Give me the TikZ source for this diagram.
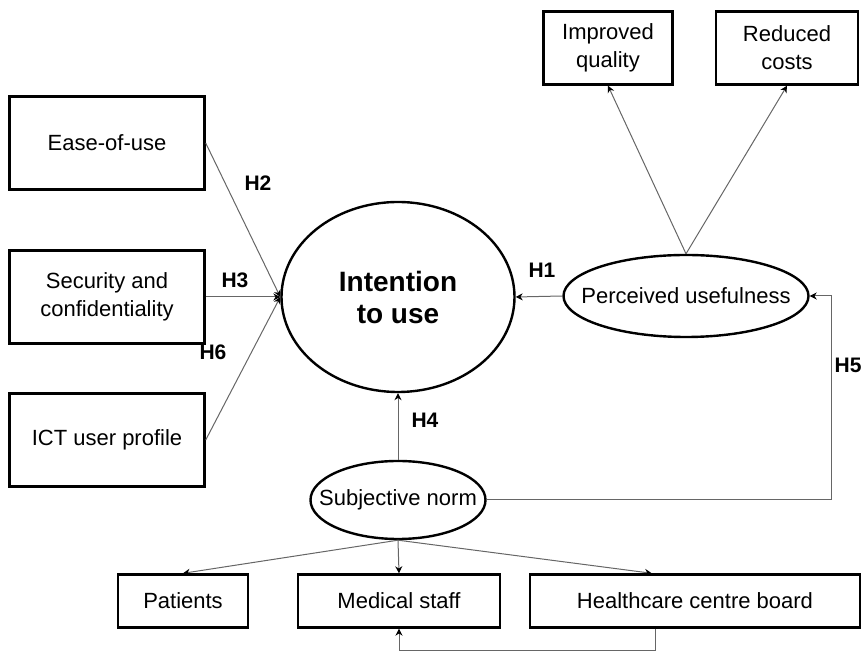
\documentclass[tikz,border=0pt]{standalone}
\usepackage{fontspec}
\setmainfont{Liberation Sans}
\usetikzlibrary{arrows.meta, shapes.geometric, calc}
\tikzset{
  box/.style={draw, line width=1.2pt, align=center, inner sep=0pt, font=\fontsize{11}{14}\selectfont},
  oval/.style={draw, ellipse, line width=1.2pt, align=center, inner sep=0pt, font=\fontsize{11}{14}\selectfont},
  link/.style={draw=black!60, line width=0.5pt, -{Stealth[length=3.5pt, width=3.5pt, black]}},
  hyp/.style={font=\bfseries\fontsize{10.5}{12}\selectfont}
}

\begin{document}
\begin{tikzpicture}[x=0.5pt, y=-0.5pt]
  \useasboundingbox (0,0) rectangle (867,656);

  % constructs
  \node[box, minimum width=97.5pt, minimum height=46.5pt] at (107,143)(ease){Ease-of-use};
  \node[box, minimum width=97.5pt, minimum height=46.5pt] at (107,297)(security){Security and\\confidentiality};
  \node[box, minimum width=97.5pt, minimum height=46.5pt] at (107,440)(ict){ICT user profile};
  \node[oval, minimum width=116.5pt, minimum height=95pt, font=\bfseries\fontsize{14}{16}\selectfont] at (398,297)(intention){Intention\\to use};
  \node[oval, inner xsep=-18pt, minimum width=122.5pt, minimum height=41pt] at (686,296)(useful){Perceived usefulness};
  \node[oval, inner xsep=-14pt, minimum width=87.5pt, minimum height=39pt] at (398,500)(norm){Subjective norm};
  \node[box, minimum width=64.5pt, minimum height=36.5pt] at (608,48)(quality){Improved\\quality};
  \node[box, minimum width=71pt, minimum height=36.5pt] at (787,48)(costs){Reduced\\costs};
  \node[box, minimum width=65pt, minimum height=26.5pt] at (183,601)(patients){Patients};
  \node[box, minimum width=101pt, minimum height=26.5pt] at (399,601)(staff){Medical staff};
  \node[box, minimum width=165pt, minimum height=26.5pt] at (695,601)(board){Healthcare centre board};

  % hypotheses
  \draw[link] (ease.east)--(intention.west);
  \draw[link] (security.east)--(intention.west);
  \draw[link] (ict.east)--(intention.west);
  \draw[link] (useful.west)--(intention.east);
  \draw[link] (norm.north)--(intention.south);
  \draw[link] (norm.east) -| ([xshift=11pt]useful.east) -- (useful.east);
  \draw[link] (useful.north)--(quality.south);
  \draw[link] (useful.north)--(costs.south);

  % referents
  \coordinate (boardin) at ($(board.north west)!0.37!(board.north east)$);
  \coordinate (boardout) at ($(board.south west)!0.38!(board.south east)$);
  \draw[link] (norm.south)--(patients.north);
  \draw[link] (norm.south)--(staff.north);
  \draw[link] (norm.south)--(boardin);
  \draw[link] (boardout) -- ++(0,22) -| (staff.south);

  \node[hyp] at (258,183)(h2){H2};
  \node[hyp] at (235,280)(h3){H3};
  \node[hyp] at (213,352)(h6){H6};
  \node[hyp] at (542,270)(h1){H1};
  \node[hyp] at (425,420)(h4){H4};
  \node[hyp] at (848,365)(h5){H5};
\end{tikzpicture}
\end{document}
